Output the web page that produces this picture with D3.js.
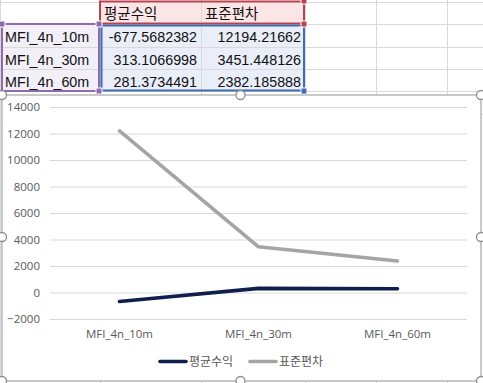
<!DOCTYPE html>
<html><head><meta charset="utf-8">
<script src="https://cdn.jsdelivr.net/npm/d3@7"></script>
<style>
html,body{margin:0;padding:0;background:#fff;}
svg{display:block;}
</style></head>
<body>
<svg id="c" width="483" height="383"></svg>
<script>
const categories = ["MFI_4n_10m", "MFI_4n_30m", "MFI_4n_60m"];
const seriesNames = ["평균수익", "표준편차"];
const meanReturn = [-677.5682382, 313.1066998, 281.3734491];
const stdDev = [12194.21662, 3451.448126, 2382.185888];
const yTicks = [-2000, 0, 2000, 4000, 6000, 8000, 10000, 12000, 14000];
const seriesColors = ["#0e1f4d", "#a5a5a5"];

const svg = d3.select("#c");
const fontK = "'Noto Sans CJK KR','Malgun Gothic',sans-serif";
const fontN = "'Open Sans','Segoe UI','Liberation Sans',sans-serif";
const fontT = "'Liberation Sans',Arial,sans-serif";

// ---- spreadsheet background ----
const colX = [0, 100, 201, 305, 376, 447, 520];
const rowY = [2, 24, 47, 69, 91, 114];
const grid = svg.append("g");
colX.forEach(x => grid.append("line").attr("x1", x + 0.5).attr("x2", x + 0.5).attr("y1", 0).attr("y2", 383).attr("stroke", "#d9d9d9"));
rowY.forEach(y => grid.append("line").attr("x1", 0).attr("x2", 483).attr("y1", y + 0.5).attr("y2", y + 0.5).attr("stroke", "#d9d9d9"));

// selection fills
svg.append("rect").attr("x", 100).attr("y", 2).attr("width", 204).attr("height", 22).attr("fill", "#fbe5e6");
svg.append("rect").attr("x", 101).attr("y", 25).attr("width", 203).attr("height", 66).attr("fill", "#e9eef8");
svg.append("rect").attr("x", 2).attr("y", 25).attr("width", 97).attr("height", 66).attr("fill", "#f2eff7");
[47, 69].forEach(y => svg.append("line").attr("x1", 2).attr("x2", 304).attr("y1", y + 0.5).attr("y2", y + 0.5).attr("stroke", "#d9d9d9"));
svg.append("line").attr("x1", 201.5).attr("x2", 201.5).attr("y1", 2).attr("y2", 91).attr("stroke", "#d9d9d9");

// selection borders
svg.append("rect").attr("x", 100).attr("y", 1.5).attr("width", 204).attr("height", 22).attr("fill", "none").attr("stroke", "#b8434f").attr("stroke-width", 2);
svg.append("rect").attr("x", 101.5).attr("y", 25.5).attr("width", 202.5).attr("height", 65).attr("fill", "none").attr("stroke", "#3f6bb0").attr("stroke-width", 2);
svg.append("rect").attr("x", 2).attr("y", 24).attr("width", 97).attr("height", 67).attr("fill", "none").attr("stroke", "#8e6bb0").attr("stroke-width", 2);
[[304, 1, "#b8434f"], [304, 24, "#b8434f"], [99, 24, "#8e6bb0"], [99, 91, "#8e6bb0"], [304, 91, "#3f6bb0"], [2, 24, "#8e6bb0"]].forEach(([x, y, c]) =>
  svg.append("rect").attr("x", x - 3).attr("y", y - 3).attr("width", 6).attr("height", 6).attr("fill", c).attr("stroke", "#fff").attr("stroke-width", 1));

// table text
const tbl = svg.append("g").attr("font-size", 14.3).attr("fill", "#111").attr("font-family", fontT);
seriesNames.forEach((s, i) => tbl.append("text").attr("x", [104, 205][i]).attr("y", 19).attr("font-family", fontK).attr("font-size", 14.5).text(s));
categories.forEach((c, i) => {
  const y = 42 + i * 22.5;
  tbl.append("text").attr("x", 5).attr("y", y).text(c);
  tbl.append("text").attr("x", 197).attr("y", y).attr("text-anchor", "end").text(String(meanReturn[i]));
  tbl.append("text").attr("x", 301).attr("y", y).attr("text-anchor", "end").text(String(stdDev[i]));
});

// ---- chart ----
const cx0 = 2, cy0 = 95, cx1 = 481, cy1 = 381;
svg.append("rect").attr("x", cx0).attr("y", cy0).attr("width", cx1 - cx0).attr("height", cy1 - cy0)
  .attr("fill", "#fff").attr("stroke", "#a6a6a6").attr("stroke-width", 1.2);

const x = d3.scaleBand().domain(categories).range([50, 467]);
const y = d3.scaleLinear().domain([-2000, 14000]).range([319, 107]);

const yAxis = d3.axisLeft(y).tickValues(yTicks).tickSize(-(467 - 50)).tickFormat(d3.format("d"));
const gy = svg.append("g").attr("transform", "translate(50,0)").call(yAxis);
gy.select(".domain").remove();
gy.selectAll(".tick line").attr("stroke", "#d9d9d9").attr("stroke-width", 1);
gy.selectAll(".tick text").attr("x", -10).attr("fill", "#595959").attr("font-size", 11.5).attr("font-family", fontN);

const xAxis = d3.axisBottom(x).tickSize(0);
const gx = svg.append("g").attr("transform", "translate(0,327)").call(xAxis);
gx.select(".domain").remove();
gx.selectAll(".tick text").attr("fill", "#595959").attr("font-size", 11.5).attr("font-family", fontN).attr("dy", "0.71em");

const line = d3.line().x((d, i) => x(categories[i]) + x.bandwidth() / 2).y(d => y(d));
[meanReturn, stdDev].forEach((vals, k) => {
  svg.append("path").datum(vals).attr("d", line).attr("fill", "none")
    .attr("stroke", seriesColors[k]).attr("stroke-width", 3.6).attr("stroke-linejoin", "round").attr("stroke-linecap", "round");
});

// legend
const leg = svg.append("g");
const legX = [160, 250];
seriesNames.forEach((s, i) => {
  leg.append("line").attr("x1", legX[i]).attr("x2", legX[i] + 26).attr("y1", 361.5).attr("y2", 361.5)
    .attr("stroke", seriesColors[i]).attr("stroke-width", 3.6).attr("stroke-linecap", "round");
  leg.append("text").attr("x", legX[i] + 29).attr("y", 361.5).attr("dy", "0.35em")
    .attr("font-size", 12).attr("fill", "#595959").attr("font-family", fontK).text(s);
});

// chart selection handles
const midX = (cx0 + cx1) / 2 - 1, midY = (cy0 + cy1) / 2 - 1;
[[cx0, cy0], [midX, cy0], [cx1, cy0], [cx0, midY], [cx1, midY], [cx0, cy1], [midX, cy1], [cx1, cy1]].forEach(([hx, hy]) =>
  svg.append("circle").attr("cx", hx).attr("cy", hy).attr("r", 4.5).attr("fill", "#fff").attr("stroke", "#8c8c8c").attr("stroke-width", 1.3));
</script>
</body></html>
